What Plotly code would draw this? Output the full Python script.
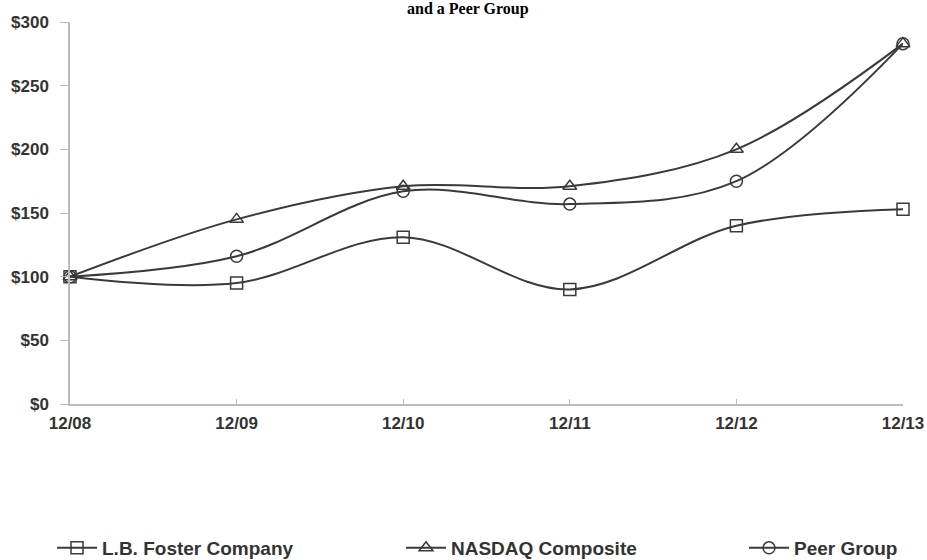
import plotly.graph_objects as go

periods = ["12/08", "12/09", "12/10", "12/11", "12/12", "12/13"]
lb_foster = [100, 95, 131, 90, 140, 153]
nasdaq = [100, 145, 171, 171, 200, 283]
peer_group = [100, 116, 167, 157, 175, 283]
series_names = ["L.B. Foster Company", "NASDAQ Composite", "Peer Group"]
y_ticks = [0, 50, 100, 150, 200, 250, 300]
y_labels = ["$0", "$50", "$100", "$150", "$200", "$250", "$300"]

line_col = "#3a3a3a"
W, H = 927, 560
legend_ids = ["legend", "legend2", "legend3"]
legend_left_px = [52, 401, 744]

fig = go.Figure()
for name, vals, sym, lid in zip(series_names, [lb_foster, nasdaq, peer_group],
                                ["square-open", "triangle-up-open", "circle-open"], legend_ids):
    fig.add_trace(go.Scatter(
        x=list(range(len(periods))), y=vals, name=name, mode="lines+markers", legend=lid,
        line=dict(color=line_col, width=2, shape="spline", smoothing=1),
        marker=dict(symbol=sym, size=12, color=line_col, line=dict(width=1.5, color=line_col)),
        cliponaxis=False,
    ))

tick_font = dict(family="Liberation Sans, Arial, sans-serif", size=17, color="#333333", weight="bold")
legend_font = dict(family="Liberation Sans, Arial, sans-serif", size=19, color="#333333", weight="bold")

layout_legends = {}
for lid, px in zip(legend_ids, legend_left_px):
    layout_legends[lid] = dict(orientation="h", xref="container", yref="container",
                               x=px / W, xanchor="left", y=1 - 548 / H, yanchor="middle",
                               font=legend_font, itemwidth=40, bgcolor="rgba(0,0,0,0)")

fig.update_layout(
    width=W, height=H,
    margin=dict(l=70, r=24, t=22, b=156),
    paper_bgcolor="white", plot_bgcolor="white",
    showlegend=True,
    xaxis=dict(range=[0, 5], tickmode="array", tickvals=list(range(6)), ticktext=periods,
               showline=True, linecolor="#bbbbbb", linewidth=1.5, ticks="inside", ticklen=5,
               tickcolor="#bbbbbb", showgrid=False, zeroline=False, tickfont=tick_font,
               ticklabelstandoff=3, automargin=False, fixedrange=True),
    yaxis=dict(range=[0, 300], tickmode="array", tickvals=y_ticks, ticktext=y_labels,
               showline=True, linecolor="#bbbbbb", linewidth=1.5, ticks="outside", ticklen=8,
               tickcolor="#bbbbbb", showgrid=False, zeroline=False, tickfont=tick_font,
               ticklabelstandoff=8, automargin=False),
    annotations=[dict(text="<b>and a Peer Group</b>", xref="paper", yref="paper",
                      x=0.478, y=1.0, xanchor="center", yanchor="bottom", yshift=2,
                      showarrow=False,
                      font=dict(family="Liberation Serif, Times New Roman, serif", size=16, color="#000"))],
    **layout_legends,
)
fig.write_html("out.html")
